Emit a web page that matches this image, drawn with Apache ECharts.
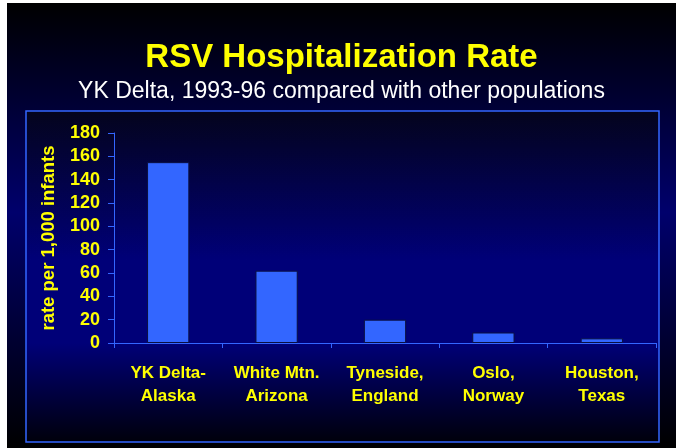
<!DOCTYPE html>
<html>
<head>
    <meta charset="utf-8">
    <title>RSV Hospitalization Rate</title>
    <script src="https://cdn.jsdelivr.net/npm/echarts@6/dist/echarts.min.js"></script>
    <style>
        body {
            margin: 0;
            background: #fff;
        }
        #main {
            position: absolute;
            left: 7px;
            top: 3px;
            width: 669px;
            height: 445px;
        }
    </style>
</head>
<body>
    <div id="main"></div>
    <script>
        // data
        var places = ['YK Delta-\nAlaska', 'White Mtn.\nArizona', 'Tyneside,\nEngland', 'Oslo,\nNorway', 'Houston,\nTexas'];
        var rates = [155, 62, 20, 9, 4];
        var yTicks = [0, 20, 40, 60, 80, 100, 120, 140, 160, 180];

        var yellow = '#ffff00';
        var blue = '#3366ff';
        var font = 'Liberation Sans, Arial, sans-serif';

        var chart = echarts.init(document.getElementById('main'));
        var option = {
            backgroundColor: new echarts.graphic.LinearGradient(0, 0, 0, 1, [
                { offset: 0, color: '#000000' },
                { offset: 0.47, color: '#00006c' },
                { offset: 1, color: '#000000' }
            ]),
            animation: false,
            title: [{
                text: 'RSV Hospitalization Rate',
                left: 'center',
                top: 33,
                textStyle: {
                    color: yellow,
                    fontSize: 33,
                    fontWeight: 'bold',
                    fontFamily: font
                }
            }, {
                text: 'YK Delta, 1993-96 compared with other populations',
                left: 'center',
                top: 72,
                textStyle: {
                    color: '#ffffff',
                    fontSize: 23,
                    fontWeight: 'normal',
                    fontFamily: font
                }
            }],
            graphic: [{
                type: 'rect',
                z: -1,
                shape: { x: 19, y: 108, width: 633, height: 331 },
                style: {
                    fill: new echarts.graphic.LinearGradient(0, 0, 0, 1, [
                        { offset: 0, color: '#04041c' },
                        { offset: 0.45, color: '#000078' },
                        { offset: 0.7, color: '#000078' },
                        { offset: 1, color: '#00000a' }
                    ]),
                    stroke: blue,
                    lineWidth: 1.5
                }
            }],
            grid: {
                left: 107,
                right: 20,
                top: 130,
                bottom: 105
            },
            xAxis: {
                type: 'category',
                data: places,
                axisLine: { lineStyle: { color: blue, width: 1 } },
                axisTick: { show: true, length: 5, lineStyle: { color: blue } },
                axisLabel: {
                    interval: 0,
                    color: yellow,
                    fontSize: 17,
                    fontWeight: 'bold',
                    fontFamily: font,
                    lineHeight: 23,
                    margin: 19
                }
            },
            yAxis: {
                type: 'value',
                min: yTicks[0],
                max: yTicks[yTicks.length - 1],
                interval: 20,
                name: 'rate per 1,000 infants',
                nameLocation: 'middle',
                nameGap: 56,
                nameTextStyle: {
                    color: yellow,
                    fontSize: 18.5,
                    fontWeight: 'bold',
                    fontFamily: font
                },
                splitLine: { show: false },
                axisLine: { show: true, lineStyle: { color: blue, width: 1 } },
                axisTick: { show: true, length: 6, lineStyle: { color: blue } },
                axisLabel: {
                    color: yellow,
                    fontSize: 18,
                    fontWeight: 'bold',
                    fontFamily: font,
                    margin: 14
                }
            },
            series: [{
                type: 'bar',
                data: rates,
                barWidth: '39%',
                itemStyle: {
                    color: blue,
                    borderColor: '#0a0f40',
                    borderWidth: 1
                }
            }]
        };
        chart.setOption(option);
    </script>
</body>
</html>
